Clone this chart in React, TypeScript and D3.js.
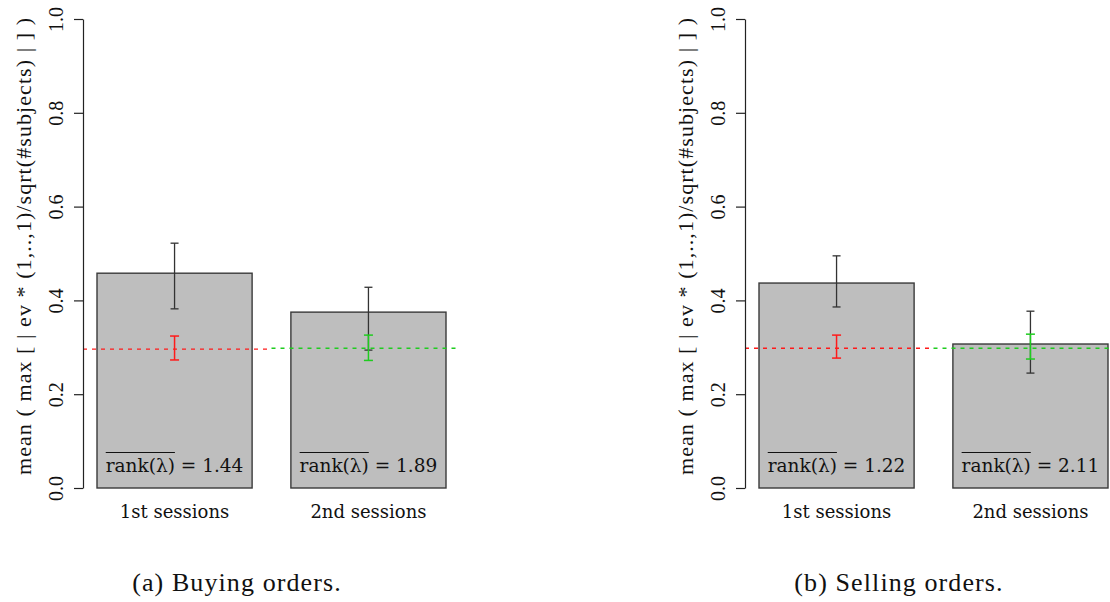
import { useEffect, useRef } from 'react';
import * as d3 from 'd3';

const WIDTH = 1110;
const HEIGHT = 602;

// panel layout (one panel, the second is shifted right)
const PANEL_SHIFT = [0, 662];
const AXIS_X = 83;
const BAR_LEFT = 97;
const BAR_RIGHT = 446;
const PLOT_RIGHT = 460;
const Y_TOP = 19;
const Y_BOTTOM = 488;

const categories = ['1st sessions', '2nd sessions'];
const yTicks = [0, 0.2, 0.4, 0.6, 0.8, 1.0];
const captions = ['(a) Buying orders.', '(b) Selling orders.'];
const yLabel = 'mean ( max [ | ev * (1,..,1)/sqrt(#subjects) | ] )';

// buying orders
const buyMeans = [0.458, 0.375];
const buyErrLow = [0.382, 0.294];
const buyErrHigh = [0.522, 0.428];
const buyNull = [0.296, 0.298];
const buyNullLow = [0.273, 0.272];
const buyNullHigh = [0.324, 0.326];
const buyRanks = [1.44, 1.89];

// selling orders
const sellMeans = [0.437, 0.307];
const sellErrLow = [0.386, 0.245];
const sellErrHigh = [0.495, 0.377];
const sellNull = [0.298, 0.298];
const sellNullLow = [0.277, 0.275];
const sellNullHigh = [0.326, 0.328];
const sellRanks = [1.22, 2.11];

const nullColors = ['#ff1a1a', '#1fcc1f'];

type Panel = {
  means: number[];
  errLow: number[];
  errHigh: number[];
  nullLevel: number[];
  nullLow: number[];
  nullHigh: number[];
  ranks: number[];
  caption: string;
};

const panels: Panel[] = [
  {
    means: buyMeans, errLow: buyErrLow, errHigh: buyErrHigh,
    nullLevel: buyNull, nullLow: buyNullLow, nullHigh: buyNullHigh,
    ranks: buyRanks, caption: captions[0],
  },
  {
    means: sellMeans, errLow: sellErrLow, errHigh: sellErrHigh,
    nullLevel: sellNull, nullLow: sellNullLow, nullHigh: sellNullHigh,
    ranks: sellRanks, caption: captions[1],
  },
];

const SERIF = 'Liberation Serif, Tinos, DejaVu Serif, serif';
const SLAB = 'DejaVu Serif, serif';

export default function App() {
  const svgRef = useRef<SVGSVGElement>(null);

  useEffect(() => {
    const svg = d3.select(svgRef.current);
    svg.selectAll('*').remove();

    const yScale = d3.scaleLinear().domain([0, 1]).range([Y_BOTTOM, Y_TOP]);
    const xScale = d3
      .scaleBand<string>()
      .domain(categories)
      .range([BAR_LEFT, BAR_RIGHT])
      .paddingInner(0.2)
      .paddingOuter(0);
    const bw = xScale.bandwidth();
    const mid = (xScale(categories[0])! + bw + xScale(categories[1])!) / 2;

    panels.forEach((p, pi) => {
      const g = svg.append('g').attr('transform', `translate(${PANEL_SHIFT[pi]},0)`);

      // bars
      g.selectAll('rect.bar')
        .data(categories)
        .join('rect')
        .attr('x', (d) => xScale(d)!)
        .attr('y', (_, i) => yScale(p.means[i]))
        .attr('width', bw)
        .attr('height', (_, i) => yScale(0) - yScale(p.means[i]))
        .attr('fill', '#bebebe')
        .attr('stroke', '#3a3a3a')
        .attr('stroke-width', 1.4);

      // dashed null levels
      categories.forEach((_, i) => {
        g.append('line')
          .attr('x1', i === 0 ? AXIS_X : mid)
          .attr('x2', i === 0 ? mid : PLOT_RIGHT)
          .attr('y1', yScale(p.nullLevel[i]))
          .attr('y2', yScale(p.nullLevel[i]))
          .attr('stroke', nullColors[i])
          .attr('stroke-width', 1.3)
          .attr('stroke-dasharray', '4,5');
      });

      // error bars
      const errBar = (cx: number, lo: number, hi: number, color: string, cap: number, w: number) => {
        const e = g.append('g').attr('stroke', color).attr('stroke-width', w);
        e.append('line').attr('x1', cx).attr('x2', cx).attr('y1', yScale(lo)).attr('y2', yScale(hi));
        [lo, hi].forEach((v) => {
          e.append('line')
            .attr('x1', cx - cap / 2)
            .attr('x2', cx + cap / 2)
            .attr('y1', yScale(v))
            .attr('y2', yScale(v));
        });
      };
      categories.forEach((c, i) => {
        const cx = xScale(c)! + bw / 2;
        errBar(cx, p.errLow[i], p.errHigh[i], '#333333', 8, 1.3);
        errBar(cx, p.nullLow[i], p.nullHigh[i], nullColors[i], 9, 1.5);
      });

      // rank labels with overline
      categories.forEach((c, i) => {
        const cx = xScale(c)! + bw / 2;
        const t = g.append('text')
          .attr('x', cx)
          .attr('y', 472)
          .attr('text-anchor', 'middle')
          .attr('font-family', SLAB)
          .attr('font-size', 18.5)
          .attr('fill', '#111');
        const a = t.append('tspan').text('rank(λ)');
        t.append('tspan').text(` = ${p.ranks[i].toFixed(2)}`);
        const node = t.node() as SVGTextElement;
        const total = node.getComputedTextLength();
        const first = (a.node() as SVGTextContentElement).getComputedTextLength();
        const x0 = cx - total / 2;
        g.append('line')
          .attr('x1', x0)
          .attr('x2', x0 + first)
          .attr('y1', 452.5)
          .attr('y2', 452.5)
          .attr('stroke', '#111')
          .attr('stroke-width', 1.2);
      });

      // category labels
      g.selectAll('text.cat')
        .data(categories)
        .join('text')
        .attr('x', (d) => xScale(d)! + bw / 2)
        .attr('y', 518)
        .attr('text-anchor', 'middle')
        .attr('font-family', SLAB)
        .attr('font-size', 18)
        .attr('fill', '#111')
        .text((d) => d);

      // y axis
      const axis = g.append('g')
        .attr('transform', `translate(${AXIS_X},0)`)
        .call(d3.axisLeft(yScale).tickValues(yTicks).tickSize(9).tickSizeOuter(0).tickFormat(d3.format('.1f')));
      axis.attr('font-family', null).attr('font-size', null);
      axis.select('.domain').attr('stroke', '#222').attr('stroke-width', 1.2);
      axis.selectAll('.tick line').attr('stroke', '#222').attr('stroke-width', 1.2);
      axis.selectAll('.tick text')
        .attr('transform', 'rotate(-90)')
        .attr('x', 0)
        .attr('y', -20)
        .attr('dy', null)
        .attr('text-anchor', 'middle')
        .attr('font-family', SERIF)
        .attr('font-size', 20)
        .attr('fill', '#111');

      // y label
      g.append('text')
        .attr('transform', `translate(31,246.5) rotate(-90)`)
        .attr('text-anchor', 'middle')
        .attr('font-family', SERIF)
        .attr('font-size', 22)
        .attr('textLength', 457)
        .attr('lengthAdjust', 'spacing')
        .attr('fill', '#111')
        .text(yLabel);

      // caption
      g.append('text')
        .attr('x', 237)
        .attr('y', 591)
        .attr('text-anchor', 'middle')
        .attr('font-family', SERIF)
        .attr('font-size', 26)
        .attr('letter-spacing', 1.1)
        .attr('fill', '#111')
        .text(p.caption);
    });
  }, []);

  return (
    <svg
      ref={svgRef}
      width={WIDTH}
      height={HEIGHT}
      style={{ position: 'absolute', left: 0, top: 0, background: '#fff' }}
    />
  );
}
